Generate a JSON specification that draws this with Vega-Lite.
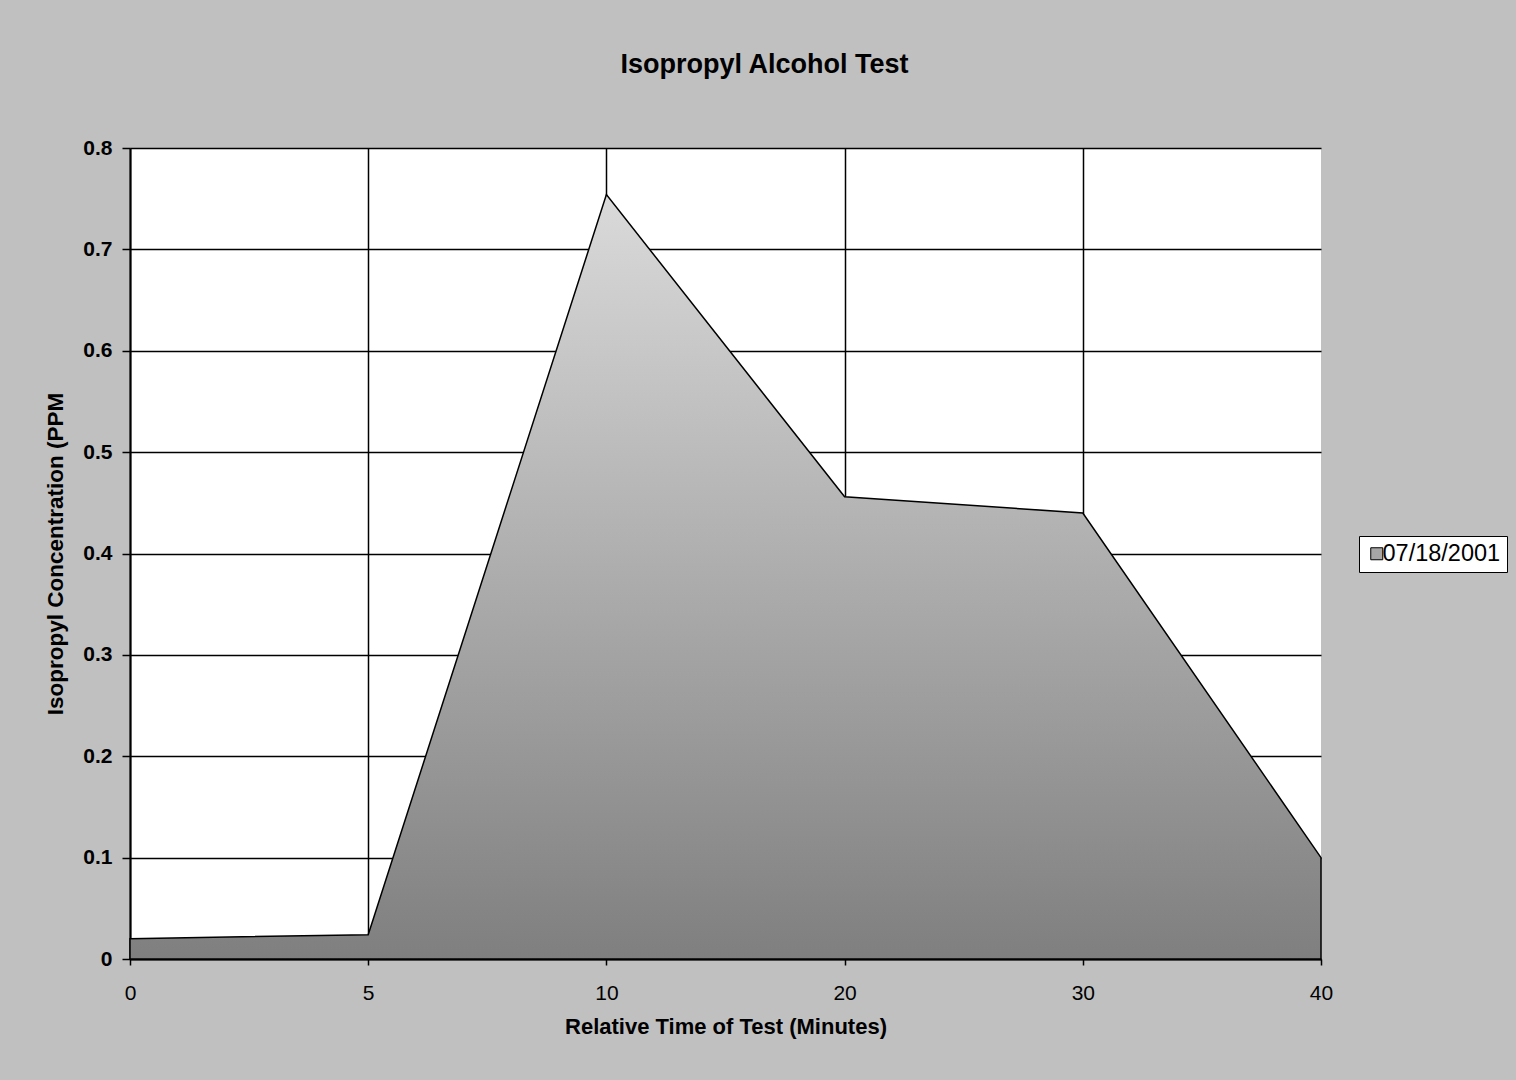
{
  "$schema": "https://vega.github.io/schema/vega-lite/v6.json",
  "autosize": {"type": "none"},
  "padding": {"left": 130, "top": 148, "right": 195, "bottom": 121},
  "width": 1191,
  "height": 811,
  "background": "#C0C0C0",
  "title": {
    "text": "Isopropyl Alcohol Test",
    "font": "Liberation Sans",
    "fontSize": 27,
    "fontWeight": "bold",
    "color": "black",
    "anchor": "middle",
    "offset": 58,
    "dx": 39
  },
  "data": {
    "values": [
      {"minutes": 0, "ppm": 0.02, "series": "07/18/2001"},
      {"minutes": 5, "ppm": 0.024, "series": "07/18/2001"},
      {"minutes": 10, "ppm": 0.754, "series": "07/18/2001"},
      {"minutes": 20, "ppm": 0.456, "series": "07/18/2001"},
      {"minutes": 30, "ppm": 0.44, "series": "07/18/2001"},
      {"minutes": 40, "ppm": 0.1, "series": "07/18/2001"}
    ]
  },
  "mark": {
    "type": "area",
    "fill": {
      "gradient": "linear",
      "x1": 0, "y1": 1, "x2": 0, "y2": 0,
      "stops": [
        {"offset": 0, "color": "#7F7F7F"},
        {"offset": 1, "color": "#DADADA"}
      ]
    },
    "stroke": "black",
    "strokeWidth": 1.5,
    "strokeJoin": "miter"
  },
  "encoding": {
    "x": {
      "field": "minutes",
      "type": "ordinal",
      "scale": {"type": "point", "padding": 0},
      "axis": {
        "title": "Relative Time of Test (Minutes)",
        "titleFont": "Liberation Sans",
        "titleFontSize": 22,
        "titleFontWeight": "bold",
        "titleColor": "black",
        "titlePadding": 13,
        "labelAngle": 0,
        "labelFont": "Liberation Sans",
        "labelFontSize": 21,
        "labelFontWeight": "normal",
        "labelColor": "black",
        "labelPadding": 17,
        "tickSize": 6,
        "tickColor": "black",
        "tickWidth": 1.5,
        "domainColor": "black",
        "domainWidth": 2,
        "grid": true,
        "gridColor": "black",
        "gridWidth": 1.5,
        "gridOpacity": {"condition": {"test": "datum.value == 40", "value": 0}, "value": 1}
      }
    },
    "y": {
      "field": "ppm",
      "type": "quantitative",
      "scale": {"domain": [0, 0.8], "nice": false},
      "axis": {
        "title": "Isopropyl Concentration (PPM",
        "titleFont": "Liberation Sans",
        "titleFontSize": 22.5,
        "titleFontWeight": "bold",
        "titleColor": "black",
        "titlePadding": 15,
        "values": [0, 0.1, 0.2, 0.3, 0.4, 0.5, 0.6, 0.7, 0.8],
        "format": ".1~f",
        "labelFont": "Liberation Sans",
        "labelFontSize": 21,
        "labelFontWeight": "bold",
        "labelColor": "black",
        "labelPadding": 10,
        "tickSize": 8,
        "tickColor": "black",
        "tickWidth": 1.5,
        "domainColor": "black",
        "domainWidth": 2,
        "grid": true,
        "gridColor": "black",
        "gridWidth": 1.5,
        "gridOpacity": 1
      }
    },
    "color": {
      "field": "series",
      "type": "nominal",
      "scale": {"range": ["#A6A6A6"]},
      "legend": {
        "title": null,
        "orient": "none",
        "legendX": 1229,
        "legendY": 388,
        "padding": 6,
        "fillColor": "white",
        "strokeColor": "black",
        "symbolType": "square",
        "symbolSize": 144,
        "symbolStrokeColor": "black",
        "symbolStrokeWidth": 1,
        "symbolOpacity": 1,
        "labelFont": "Liberation Sans",
        "labelFontSize": 23.5,
        "labelColor": "black",
        "labelOffset": -6
      }
    }
  },
  "config": {
    "view": {"fill": "white", "stroke": null}
  }
}
